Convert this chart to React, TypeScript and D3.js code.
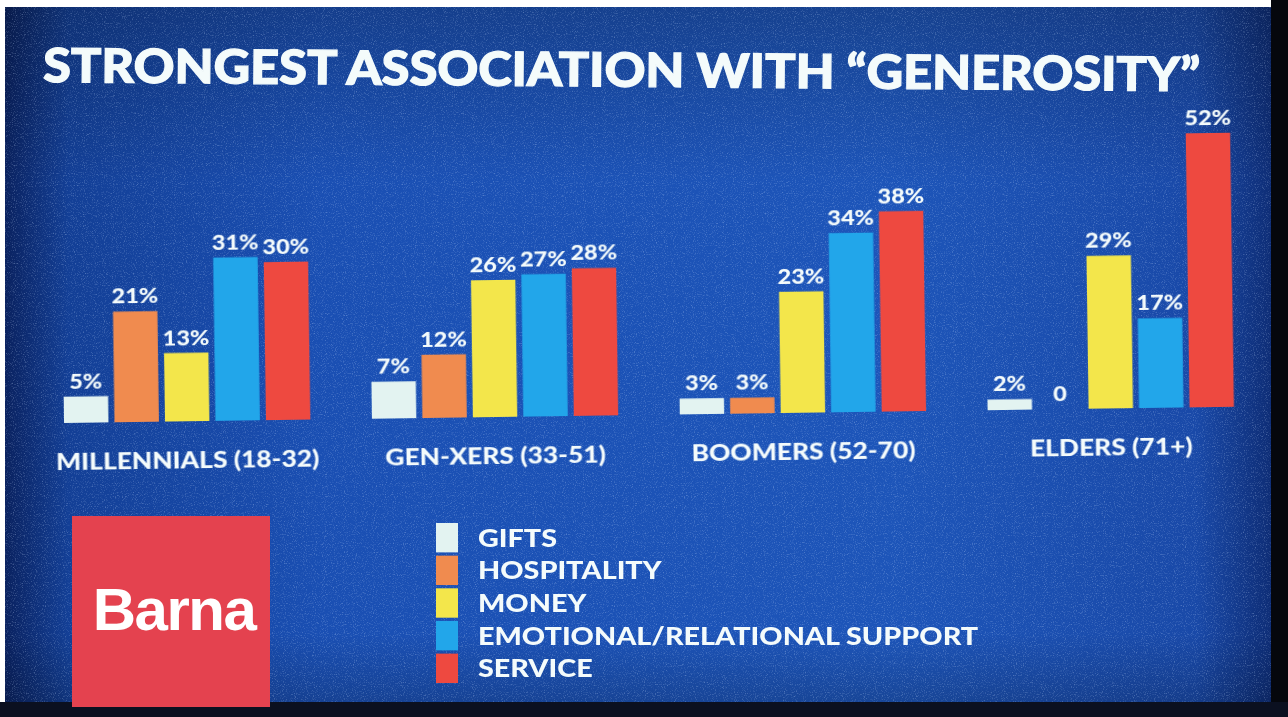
import React from "react";
import * as d3 from "d3";

const TITLE = "STRONGEST ASSOCIATION WITH \u201CGENEROSITY\u201D";
const generations = ["MILLENNIALS (18-32)", "GEN-XERS (33-51)", "BOOMERS (52-70)", "ELDERS (71+)"];
const seriesNames = ["GIFTS", "HOSPITALITY", "MONEY", "EMOTIONAL/RELATIONAL SUPPORT", "SERVICE"];
const seriesColors = ["#e3f3f1", "#f08b4f", "#f3e64c", "#22a6ea", "#ee4a40"];
const gifts = [5, 7, 3, 2];
const hospitality = [21, 12, 3, 0];
const money = [13, 26, 23, 29];
const emotional = [31, 27, 34, 17];
const service = [30, 28, 38, 52];
const seriesValues = [gifts, hospitality, money, emotional, service];

const W = 1288;
const H = 717;
const FONT = "Lato, 'Open Sans', sans-serif";
const INK = "#f4fbfb";

export default function App() {
  const baseline = 415;
  const x0 = d3.scaleBand<string>().domain(generations).range([64, 1234]).paddingInner(0.2).paddingOuter(0);
  const x1 = d3.scaleBand<string>().domain(seriesNames).range([0, x0.bandwidth()]).paddingInner(0.12).paddingOuter(0);
  const y = d3.scaleLinear().domain([0, 52]).range([baseline, baseline - 274]);
  const legendY = d3.scaleBand<string>().domain(seriesNames).range([523, 683]).paddingInner(0.1);

  return (
    <svg width={W} height={H} style={{ position: "absolute", left: 0, top: 0, display: "block" }}>
      <defs>
        <linearGradient id="bgH" x1="0" x2="1" y1="0" y2="0">
          <stop offset="0" stopColor="#0a2260" />
          <stop offset="0.05" stopColor="#133f96" />
          <stop offset="0.25" stopColor="#1a4fb3" />
          <stop offset="0.7" stopColor="#1d55b9" />
          <stop offset="0.94" stopColor="#1949a8" />
          <stop offset="1" stopColor="#0e2d76" />
        </linearGradient>
        <linearGradient id="bgV" x1="0" x2="0" y1="0" y2="1">
          <stop offset="0" stopColor="#000" stopOpacity="0.22" />
          <stop offset="0.25" stopColor="#000" stopOpacity="0" />
          <stop offset="0.9" stopColor="#000" stopOpacity="0" />
          <stop offset="1" stopColor="#000" stopOpacity="0.18" />
        </linearGradient>
        <filter id="grain" x="0" y="0" width="100%" height="100%">
          <feTurbulence type="fractalNoise" baseFrequency="0.9" numOctaves="2" seed="3" />
          <feColorMatrix type="matrix" values="0 0 0 0 0.6  0 0 0 0 0.75  0 0 0 0 1  0 0 0 3 -1.6" />
        </filter>
        <filter id="soft" x="-5%" y="-20%" width="110%" height="140%">
          <feGaussianBlur stdDeviation="0.6" />
        </filter>
      </defs>
      <rect x={0} y={0} width={W} height={H} fill="#ffffff" />
      <rect x={5} y={7} width={1267} height={696} fill="url(#bgH)" />
      <rect x={5} y={7} width={1267} height={696} fill="url(#bgV)" />
      <rect x={5} y={7} width={1267} height={696} filter="url(#grain)" opacity={0.3} />
      <rect x={1271} y={0} width={17} height={H} fill="#05070d" />
      <rect x={0} y={702} width={W} height={15} fill="#0b1020" />

      <g filter="url(#soft)">
        <text
          x={43}
          y={82}
          fill={INK}
          stroke={INK}
          strokeWidth={1.2}
          fontFamily={FONT}
          fontWeight={900}
          fontSize={47}
          textLength={1157}
          lengthAdjust="spacingAndGlyphs"
          transform="rotate(0.45 43 82)"
        >
          {TITLE}
        </text>

        <g transform={`rotate(-0.8 640 ${baseline})`}>
          {generations.map((g, gi) => (
            <g key={g} transform={`translate(${x0(g)},0)`}>
              {seriesNames.map((s, si) => {
                const v = seriesValues[si][gi];
                const bx = x1(s) as number;
                const bw = x1.bandwidth();
                return (
                  <g key={s}>
                    {v > 0 && (
                      <rect x={bx} y={y(v)} width={bw} height={baseline - y(v)} fill={seriesColors[si]} />
                    )}
                    <text
                      transform={`translate(${bx + bw / 2},${y(v) - 8}) scale(1.12,1)`}
                      textAnchor="middle"
                      fill={INK}
                      fontFamily={FONT}
                      fontWeight={900}
                      fontSize={21}
                    >
                      {v === 0 ? "0" : `${v}%`}
                    </text>
                  </g>
                );
              })}
              <text
                transform={`translate(${x0.bandwidth() / 2},${baseline + 47}) scale(1.2,1)`}
                textAnchor="middle"
                fill={INK}
                fontFamily={FONT}
                fontWeight={900}
                fontSize={22}
              >
                {g}
              </text>
            </g>
          ))}
        </g>

        <rect x={72} y={516} width={198} height={191} fill="#e4434f" />
        <text
          x={174}
          y={630}
          textAnchor="middle"
          fill="#ffffff"
          fontFamily="'Liberation Sans', Arial, sans-serif"
          fontWeight={700}
          fontSize={60}
          letterSpacing={-1.5}
        >
          Barna
        </text>

        {seriesNames.map((s, si) => {
          const ly = legendY(s) as number;
          const lh = legendY.bandwidth();
          return (
            <g key={s}>
              <rect x={436} y={ly} width={22} height={lh} fill={seriesColors[si]} />
              <text
                transform={`translate(478,${ly + lh / 2 + 9}) scale(1.15,1)`}
                fill={INK}
                fontFamily={FONT}
                fontWeight={900}
                fontSize={25}
              >
                {s}
              </text>
            </g>
          );
        })}
      </g>
    </svg>
  );
}
